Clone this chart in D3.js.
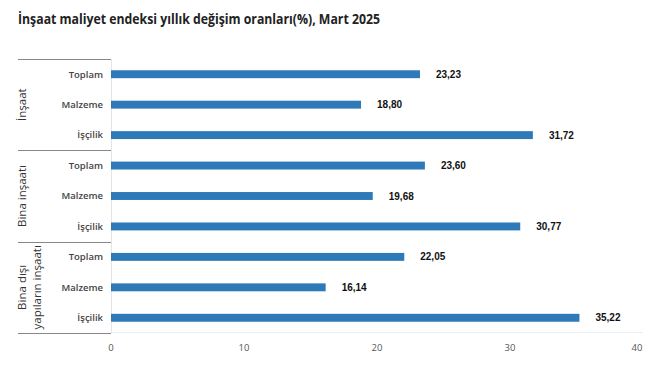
<!DOCTYPE html>
<html><head><meta charset="utf-8">
<script src="https://cdn.jsdelivr.net/npm/d3@7"></script>
<style>body{margin:0;background:#fff}svg{display:block}</style>
</head><body>
<svg id="c" width="671" height="381"></svg>
<script>
const groups = [["İnşaat"], ["Bina inşaatı"], ["Bina dışı", "yapıların inşaatı"]];
const subcats = ["Toplam", "Malzeme", "İşçilik"];
const values = [23.23, 18.80, 31.72, 23.60, 19.68, 30.77, 22.05, 16.14, 35.22];
const xTicks = [0, 10, 20, 30, 40];

const svg = d3.select("#c");
const x = d3.scaleLinear().domain([0, 40]).range([111, 643]);
const rows = d3.range(values.length);
const y = d3.scaleBand().domain(rows).range([59, 333]).paddingInner(0.74).paddingOuter(0.37);

const title = svg.append("text").attr("x", 18).attr("y", 24)
  .attr("font-family", "Open Sans, Noto Sans, sans-serif").attr("font-weight", 700)
  .attr("font-size", 13.5).attr("fill", "#222")
  .text("İnşaat maliyet endeksi yıllık değişim oranları(%), Mart 2025");
// fit title to reference width
const tw = title.node().getComputedTextLength();
if (tw > 0) title.attr("textLength", 362).attr("lengthAdjust", "spacingAndGlyphs");

// bottom faint grid line
svg.append("line").attr("x1", x(0)).attr("x2", x(40)).attr("y1", 332.5).attr("y2", 332.5)
  .attr("stroke", "#e8eef3").attr("stroke-width", 1);
// vertical axis line
svg.append("line").attr("x1", x(0) + 0.5).attr("x2", x(0) + 0.5).attr("y1", 59).attr("y2", 333)
  .attr("stroke", "#e4e4e4");

// bars
svg.selectAll("rect.bar").data(values).join("rect").attr("class", "bar")
  .attr("x", x(0)).attr("y", (d, i) => y(i))
  .attr("width", d => x(d) - x(0)).attr("height", y.bandwidth())
  .attr("fill", "#2e79b8");

// value labels
svg.selectAll("text.val").data(values).join("text").attr("class", "val")
  .attr("x", d => x(d) + 16).attr("y", (d, i) => y(i) + y.bandwidth() / 2)
  .attr("dy", "0.35em").attr("font-family", "Liberation Sans, Arial, sans-serif")
  .attr("font-weight", 700).attr("font-size", 10).attr("fill", "#111")
  .text(d => d.toFixed(2).replace(".", ","));

// sub-category labels
svg.selectAll("text.sub").data(rows).join("text").attr("class", "sub")
  .attr("x", 103).attr("y", i => y(i) + y.bandwidth() / 2).attr("dy", "0.35em")
  .attr("text-anchor", "end").attr("font-family", "Open Sans, Noto Sans, sans-serif")
  .attr("font-weight", 600).attr("font-size", 9.5).attr("fill", "#444")
  .text(i => subcats[i % 3]);

// group separators
const step = y.step();
const seps = [0, 3, 6, 9].map(k => k === 9 ? y(8) + y.bandwidth() / 2 + step / 2 : y(k) + y.bandwidth() / 2 - step / 2);
svg.selectAll("line.sep").data(seps).join("line").attr("class", "sep")
  .attr("x1", 18).attr("x2", x(0)).attr("y1", d => Math.round(d) + 0.5).attr("y2", d => Math.round(d) + 0.5)
  .attr("stroke", "#888").attr("stroke-width", 1);

// group labels
groups.forEach((g, gi) => {
  const cy = (seps[gi] + seps[gi + 1]) / 2;
  const lines = g.length;
  g.forEach((t, li) => {
    const cx = 22 + li * 15;
    svg.append("text").attr("transform", `translate(${cx},${cy}) rotate(-90)`)
      .attr("text-anchor", "middle").attr("dy", "0.35em")
      .attr("font-family", "Open Sans, Noto Sans, sans-serif").attr("font-size", 11.5)
      .attr("fill", "#333").text(t);
  });
});

// x axis labels
svg.selectAll("text.xt").data(xTicks).join("text").attr("class", "xt")
  .attr("x", d => d === 40 ? x(d) - 6 : x(d)).attr("y", 351)
  .attr("text-anchor", "middle").attr("font-family", "Open Sans, Noto Sans, sans-serif")
  .attr("font-size", 9.5).attr("fill", "#555").text(d => d);
</script>
</body></html>
